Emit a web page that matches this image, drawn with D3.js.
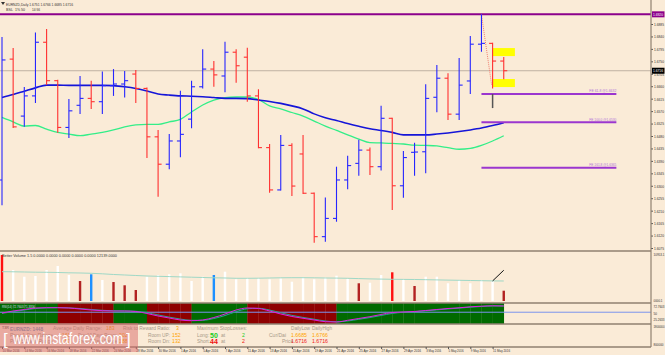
<!DOCTYPE html>
<html>
<head>
<meta charset="utf-8">
<script src="https://cdn.jsdelivr.net/npm/d3@7"></script>
<style>
html, body { margin: 0; padding: 0; background: #faebd7; }
svg { display: block; font-family: "Liberation Sans", Arial, sans-serif; }
</style>
</head>
<body>
<div id="chart"></div>
<script>
// one entry per daily bar
const dates = ["10 Mar 2016","11 Mar 2016","14 Mar 2016","15 Mar 2016","16 Mar 2016","17 Mar 2016","18 Mar 2016",
  "21 Mar 2016","22 Mar 2016","23 Mar 2016","24 Mar 2016","25 Mar 2016","28 Mar 2016","29 Mar 2016","30 Mar 2016",
  "31 Mar 2016","1 Apr 2016","4 Apr 2016","5 Apr 2016","6 Apr 2016","7 Apr 2016","8 Apr 2016","11 Apr 2016",
  "12 Apr 2016","13 Apr 2016","14 Apr 2016","15 Apr 2016","18 Apr 2016","19 Apr 2016","20 Apr 2016","21 Apr 2016",
  "22 Apr 2016","25 Apr 2016","26 Apr 2016","27 Apr 2016","28 Apr 2016","29 Apr 2016","2 May 2016","3 May 2016",
  "4 May 2016","5 May 2016","6 May 2016","9 May 2016","10 May 2016","11 May 2016","12 May 2016"];
const opens  = [1.6321,1.6758,1.6552,1.6625,1.6819,1.6680,1.6511,1.6591,1.6616,1.6604,1.6662,1.6668,1.6704,1.6652,1.6477,1.6378,
  1.6462,1.6541,1.6658,1.6722,1.6697,1.6783,1.6765,1.6625,1.6438,1.6285,1.6446,1.6415,1.6273,1.6116,1.6182,1.6321,
  1.6381,1.6429,1.6369,1.6544,1.6300,1.6421,1.6423,1.6620,1.6689,1.6559,1.6679,1.6812,1.6815,1.6751];
const highs  = [1.6838,1.6798,1.6657,1.6854,1.6867,1.6683,1.6614,1.6697,1.6680,1.6713,1.6722,1.6715,1.6719,1.6655,1.6502,1.6487,
  1.6644,1.6680,1.6794,1.6751,1.6821,1.6794,1.6799,1.6649,1.6451,1.6484,1.6454,1.6484,1.6276,1.6258,1.6369,1.6409,
  1.6466,1.6438,1.6589,1.6546,1.6426,1.6456,1.6667,1.6737,1.6707,1.6762,1.6842,1.6920,1.6817,1.6766];
const lows   = [1.6230,1.6509,1.6513,1.6599,1.6664,1.6492,1.6473,1.6560,1.6578,1.6560,1.6625,1.6619,1.6599,1.6400,1.6260,1.6360,
  1.6403,1.6508,1.6652,1.6658,1.6638,1.6673,1.6604,1.6436,1.6275,1.6283,1.6263,1.6270,1.6094,1.6098,1.6170,1.6287,
  1.6336,1.6339,1.6355,1.6212,1.6257,1.6336,1.6345,1.6566,1.6538,1.6538,1.6632,1.6785,1.6652,1.6685];
const closes = [1.6755,1.6513,1.6625,1.6819,1.6680,1.6511,1.6571,1.6616,1.6604,1.6662,1.6668,1.6680,1.6652,1.6477,1.6378,1.6462,
  1.6486,1.6658,1.6722,1.6701,1.6783,1.6734,1.6625,1.6438,1.6285,1.6446,1.6299,1.6273,1.6116,1.6182,1.6321,1.6373,
  1.6429,1.6369,1.6544,1.6300,1.6402,1.6422,1.6616,1.6689,1.6559,1.6664,1.6812,1.6815,1.6751,1.6716];
const maBlue  = [1.6619,1.6630,1.6642,1.6654,1.6664,1.6664,1.6663,1.6663,1.6663,1.6663,1.6662,1.6658,1.6652,1.6643,1.6632,1.6628,
  1.6625,1.6624,1.6622,1.6619,1.6616,1.6616,1.6615,1.6610,1.6605,1.6598,1.6589,1.6578,1.6560,1.6546,1.6536,1.6525,
  1.6515,1.6506,1.6500,1.6493,1.6484,1.6484,1.6484,1.6487,1.6491,1.6496,1.6502,1.6509,1.6518,1.6528];
const maGreen = [1.6547,1.6531,1.6516,1.6518,1.6505,1.6493,1.6487,1.6481,1.6487,1.6493,1.6502,1.6513,1.6520,1.6522,1.6522,1.6531,
  1.6540,1.6567,1.6592,1.6610,1.6619,1.6621,1.6621,1.6612,1.6589,1.6578,1.6565,1.6552,1.6534,1.6516,1.6500,1.6484,
  1.6469,1.6456,1.6455,1.6453,1.6451,1.6447,1.6446,1.6444,1.6438,1.6432,1.6435,1.6446,1.6462,1.6481];
const priceTicks = [1.6885,1.6840,1.6795,1.6750,1.6705,1.6660,1.6615,1.6570,1.6525,1.6480,1.6435,1.6390,1.6345,1.6300,
  1.6255,1.6210,1.6165,1.6120,1.6075];
const dateTickIdx = [0,2,4,6,8,10,12,14,16,18,20,22,24,26,28,30,32,34,36,38,40,42,44];

const volumes = [10540,7105,5570,5730,7105,8020,5960,4580,6120,4810,4350,3600,2520,5570,5960,6120,6350,4580,5570,5960,
  6715,4970,5200,5200,4970,5200,4420,5430,4970,5340,5800,5040,4060,4190,5960,6580,4970,3440,5570,5570,4060,4810,
  4060,4810,4580,2360];
const volumeTypes = ["climax","low","low","low","low","low","low","churn","spike","low","churn","churn","churn","low","low","low",
  "low","low","low","spike","low","low","low","low","low","low","low","low","low","low","low","low","churn","low","low",
  "climax","low","churn","low","low","low","low","low","low","low","churn"];
const volumeAvg = [6716,6693,6647,6601,6578,6532,6463,6418,6349,6234,6074,5959,5845,5730,5661,5592,5524,5455,5386,5317,
  5272,5203,5203,5226,5272,5317,5340,5340,5317,5272,5249,5203,5134,5065,5019,4974,4951,4928,4882,4836,4790,4744,
  4699,4653,4607,4584];
const bandState = ["up","up","up","up","up","down","down","down","down","down","up","up","up","down","down","down","down",
  "up","up","up","up","up","down","down","down","down","down","down","down","down","up","up","up","up","up","up","up",
  "up","up","up","up","up","up","up","up","up"];
const oscMain = [47.2,54.5,60,65.4,66.5,66.5,65.4,61.8,58.1,55.6,54.5,54.5,52.7,45.3,36.2,28.9,21.6,19.1,21.6,30.7,43.5,
  58.1,65.4,63.6,54.5,43.5,34.4,27.8,21.6,15.4,14.3,20.5,27.1,33.7,41.7,49,50.8,52.7,56.3,60,63.6,66.2,69.8,72,73.5,72.7];
const oscSignal = [46,52,58,63.5,66,66.8,66,63.5,60,57,55.2,54.6,53.5,48.5,40,32,25,20.5,20.5,27,38,52,62.5,64.5,58,48,
  38.5,31,24.5,18,15,18,24,30.5,38,45.5,50,52,55,58.5,62,65,68.3,71,72.8,73];

const resistance = 1.6920;
const lastPrice = 1.6716;
const fibLevels = [
  { label: "FE 61.8 @1.6632", value: 1.6632 },
  { label: "FE 100.0 @1.6530", value: 1.6530 },
  { label: "FE 161.8 @1.6365", value: 1.6365 }
];
const targetZones = [
  { hi: 1.6798, lo: 1.6769 },
  { hi: 1.6686, lo: 1.6657 }
];

const width = 665, height = 355;
const axisX = 651;

const svg = d3.select("#chart").append("svg")
  .attr("width", width).attr("height", height)
  .attr("viewBox", `0 0 ${width} ${height}`);

svg.append("rect").attr("width", width).attr("height", height).attr("fill", "#faebd7");

const x = d3.scaleLinear().domain([0, 45]).range([2, 503.75]);
const y = d3.scaleLinear().domain([1.6075, 1.6885]).range([248, 24]);
const yVol = d3.scaleLinear().domain([0, 11000]).range([301, 253]);
const yOsc = d3.scaleLinear().domain([7, 83.7]).range([324, 303]);

// squeeze a text into a given width (the MT4 font is narrow)
function fit(sel, w) {
  sel.attr("textLength", w).attr("lengthAdjust", "spacingAndGlyphs");
  return sel;
}

// header
svg.append("path").attr("d", "M1,2 L5,2 L3,5 Z").attr("fill", "#333");
fit(svg.append("text").attr("x", 6).attr("y", 5.5).attr("font-size", 4.4).attr("fill", "#333")
  .text("EURNZD,Daily  1.6751 1.6766 1.6685 1.6716"), 67);
fit(svg.append("text").attr("x", 6).attr("y", 11).attr("font-size", 4.2).attr("fill", "#333").text("BSL"), 7);
fit(svg.append("text").attr("x", 15).attr("y", 11).attr("font-size", 4.2).attr("fill", "#333").text("1% 50"), 10);
fit(svg.append("text").attr("x", 32).attr("y", 11).attr("font-size", 4.2).attr("fill", "#333").text("14:56"), 8);

// current price line
svg.append("line").attr("x1", 0).attr("x2", axisX).attr("y1", y(lastPrice)).attr("y2", y(lastPrice))
  .attr("stroke", "#bfb2a2").attr("stroke-width", 1);

// resistance line
svg.append("line").attr("x1", 0).attr("x2", axisX).attr("y1", y(resistance)).attr("y2", y(resistance))
  .attr("stroke", "#8b008b").attr("stroke-width", 2);

// moving averages
const line = d3.line().x((d, i) => x(i)).y(d => y(d)).curve(d3.curveMonotoneX);
svg.append("path").datum(maGreen).attr("d", line).attr("fill", "none")
  .attr("stroke", "#33ee88").attr("stroke-width", 1.3);
svg.append("path").datum(maBlue).attr("d", line).attr("fill", "none")
  .attr("stroke", "#1515d8").attr("stroke-width", 1.6);

// fib extension lines
const fib = svg.append("g");
fib.selectAll("line").data(fibLevels).join("line")
  .attr("x1", x(43)).attr("x2", x(55.1))
  .attr("y1", d => y(d.value)).attr("y2", d => y(d.value))
  .attr("stroke", "#9b36cf").attr("stroke-width", 2);
fit(fib.selectAll("text").data(fibLevels).join("text")
  .attr("x", x(55.1) - 27).attr("y", d => y(d.value) - 1.5)
  .attr("font-size", 4).attr("fill", "#b070d8")
  .text(d => d.label), 27);

// target zones
svg.append("g").selectAll("rect").data(targetZones).join("rect")
  .attr("x", x(44)).attr("width", x(46) - x(44))
  .attr("y", d => y(d.hi)).attr("height", d => y(d.lo) - y(d.hi))
  .attr("fill", "#ffff00");

// dotted swing line
svg.append("line").attr("x1", x(43)).attr("y1", y(highs[43])).attr("x2", x(44) - 1).attr("y2", y(1.6665))
  .attr("stroke", "#f08070").attr("stroke-width", 1).attr("stroke-dasharray", "1,1");
svg.append("line").attr("x1", x(44)).attr("x2", x(44)).attr("y1", y(1.6632)).attr("y2", y(1.6581))
  .attr("stroke", "#555").attr("stroke-width", 1.5);

// OHLC bars
const bars = svg.append("g").selectAll("g").data(dates).join("g")
  .attr("stroke", (d, i) => closes[i] >= opens[i] ? "#2626ff" : "#ff3030")
  .attr("stroke-width", 1.1);
bars.append("line").attr("x1", (d, i) => x(i)).attr("x2", (d, i) => x(i))
  .attr("y1", (d, i) => y(highs[i])).attr("y2", (d, i) => y(lows[i]));
bars.append("line").attr("x1", (d, i) => x(i) - 3.5).attr("x2", (d, i) => x(i))
  .attr("y1", (d, i) => y(opens[i])).attr("y2", (d, i) => y(opens[i]));
bars.append("line").attr("x1", (d, i) => x(i)).attr("x2", (d, i) => x(i) + 3.5)
  .attr("y1", (d, i) => y(closes[i])).attr("y2", (d, i) => y(closes[i]));

// price axis
const axisG = svg.append("g").attr("transform", `translate(${axisX},0)`)
  .call(d3.axisRight(y).tickValues(priceTicks).tickSize(2).tickFormat(d3.format(".4f")))
  .call(g => g.select(".domain").remove());
axisG.selectAll("line").attr("stroke", "#555");
fit(axisG.selectAll("text").attr("font-size", 4.2).attr("fill", "#333").attr("x", 3)
  .attr("font-family", "Liberation Sans, Arial"), 10);

function tagLabel(yPos, txt, bg) {
  const g = svg.append("g");
  g.append("rect").attr("x", axisX + 1).attr("y", yPos - 3).attr("width", 12.5).attr("height", 6).attr("fill", bg);
  fit(g.append("text").attr("x", axisX + 2).attr("y", yPos + 1.6).attr("font-size", 4.4).attr("fill", "#fff").text(txt), 10);
}
tagLabel(y(resistance), d3.format(".4f")(resistance), "#8b008b");
tagLabel(y(lastPrice), d3.format(".4f")(lastPrice), "#000");

// volume panel
const volColor = { low: "#ffffff", churn: "#b22222", spike: "#1e90ff", climax: "#ff1010" };
svg.append("g").selectAll("rect").data(volumes).join("rect")
  .attr("x", (d, i) => x(i) - 1.2).attr("width", 2.4)
  .attr("y", d => yVol(d)).attr("height", d => yVol(0) - yVol(d))
  .attr("fill", (d, i) => volColor[volumeTypes[i]]);
svg.append("path").datum(volumeAvg)
  .attr("d", d3.line().x((d, i) => x(i)).y(d => yVol(d)))
  .attr("fill", "none").attr("stroke", "#9fd8c6").attr("stroke-width", 1);
svg.append("line").attr("x1", x(44)).attr("y1", yVol(4600)).attr("x2", x(45)).attr("y2", yVol(7050))
  .attr("stroke", "#111").attr("stroke-width", 1);
fit(svg.append("text").attr("x", 2).attr("y", 256.5).attr("font-size", 4).attr("fill", "#333")
  .text("Better Volume 1.5  0.0000 0.0000 0.0000 0.0000 0.0000 12139.0000"), 115);

// band panel
const bandG = svg.append("g");
bandG.selectAll("rect").data(bandState.slice(0, 45)).join("rect")
  .attr("x", (d, i) => i === 0 ? 0 : x(i)).attr("width", (d, i) => x(i + 1) - (i === 0 ? 0 : x(i)) + 0.3)
  .attr("y", 303).attr("height", 21)
  .attr("fill", d => d === "up" ? "#006a00" : "#8e0000");
svg.append("line").attr("x1", 0).attr("x2", axisX).attr("y1", yOsc(50)).attr("y2", yOsc(50))
  .attr("stroke", "#7a93ee").attr("stroke-width", 1);
const oscLine = d3.line().x((d, i) => x(i)).y(d => yOsc(d)).curve(d3.curveMonotoneX);
svg.append("path").datum(oscSignal).attr("d", oscLine).attr("fill", "none")
  .attr("stroke", "#2aa090").attr("stroke-width", 1);
svg.append("path").datum(oscMain).attr("d", oscLine).attr("fill", "none")
  .attr("stroke", "#e020e0").attr("stroke-width", 1);
fit(svg.append("text").attr("x", 2).attr("y", 307.5).attr("font-size", 3.8).attr("fill", "#dde")
  .text("RSI(14) 72.7603 71.3356"), 33);

// panel separators
[251, 303, 324, 347].forEach(yy => {
  svg.append("line").attr("x1", 0).attr("x2", axisX).attr("y1", yy).attr("y2", yy)
    .attr("stroke", "#8f8070").attr("stroke-width", 1.4);
});
svg.append("line").attr("x1", axisX).attr("x2", axisX).attr("y1", 0).attr("y2", 347)
  .attr("stroke", "#8f8070").attr("stroke-width", 1.2);

const sideLabels = [
  { y: 255.5, t: "10953.1", w: 11 }, { y: 302, t: "0000.1", w: 9 },
  { y: 307.5, t: "72.7603", w: 11 }, { y: 314.5, t: "50", w: 3.5 }, { y: 321, t: "25.2633", w: 11 },
  { y: 327.5, t: "1800000", w: 11 }, { y: 346, t: "800000", w: 10 }
];
fit(svg.append("g").selectAll("text").data(sideLabels).join("text")
  .attr("x", axisX + 2.5).attr("y", d => d.y).attr("font-size", 4).attr("fill", "#333").text(d => d.t), 0)
  .attr("textLength", d => d.w);

// info strip
const labelCol = "#a89a88", valCol = "#ffa500";
const info = [
  { x: 2, y: 329, t: "T3R", c: "#333", s: 3.6 },
  { x: 10, y: 330.5, t: "EURNZD: 1448", c: "#6d8fb3", s: 6, w: "bold", l: 33 },
  { x: 53, y: 330, t: "Average Daily Range:", c: labelCol, s: 5, l: 49 },
  { x: 106, y: 330, t: "183", c: valCol, s: 5.2 },
  { x: 123, y: 330, t: "Risk to Reward Ratio:", c: labelCol, s: 5, l: 47 },
  { x: 176, y: 330, t: "3", c: valCol, s: 5.2 },
  { x: 197, y: 330, t: "Maximum StopLosses:", c: labelCol, s: 5, l: 50 },
  { x: 291, y: 330, t: "DailyLow", c: labelCol, s: 5, l: 19 },
  { x: 312, y: 330, t: "DailyHigh", c: labelCol, s: 5, l: 20 },
  { x: 10, y: 336.5, t: "Prev 1 Day Range", c: labelCol, s: 5, l: 43 },
  { x: 62, y: 336.5, t: "161", c: valCol, s: 5.2 },
  { x: 78, y: 336.5, t: "Prev10 Days Range", c: labelCol, s: 5, l: 39 },
  { x: 119, y: 336.5, t: "202", c: valCol, s: 5.2 },
  { x: 148, y: 336.5, t: "Room UP:", c: labelCol, s: 5, l: 22 },
  { x: 172, y: 336.5, t: "152", c: valCol, s: 5.2 },
  { x: 197, y: 336.5, t: "Long:", c: labelCol, s: 5, l: 12 },
  { x: 210, y: 338, t: "50", c: "#22cc22", s: 7, w: "bold" },
  { x: 221, y: 336.5, t: "at", c: labelCol, s: 5 },
  { x: 242, y: 336.5, t: "2", c: "#22cc22", s: 5.2 },
  { x: 269, y: 336.5, t: "Cur/Dai", c: labelCol, s: 5, l: 17 },
  { x: 291, y: 336.5, t: "1.6685", c: valCol, s: 5.2, l: 16 },
  { x: 312, y: 336.5, t: "1.6766", c: valCol, s: 5.2, l: 16 },
  { x: 10, y: 342.5, t: "Prev 5 Days Range", c: labelCol, s: 5, l: 43 },
  { x: 62, y: 342.5, t: "157", c: valCol, s: 5.2 },
  { x: 78, y: 342.5, t: "Prev20 Days Range", c: labelCol, s: 5, l: 39 },
  { x: 119, y: 342.5, t: "188", c: valCol, s: 5.2 },
  { x: 148, y: 342.5, t: "Room Dn:", c: labelCol, s: 5, l: 22 },
  { x: 172, y: 342.5, t: "132", c: valCol, s: 5.2 },
  { x: 197, y: 342.5, t: "Short:", c: labelCol, s: 5, l: 13 },
  { x: 210, y: 344, t: "44", c: "#ee1111", s: 7, w: "bold" },
  { x: 221, y: 342.5, t: "at", c: labelCol, s: 5 },
  { x: 242, y: 342.5, t: "2", c: "#ee1111", s: 5.2 },
  { x: 282, y: 342.5, t: "Price", c: labelCol, s: 5 },
  { x: 291, y: 342.5, t: "1.6716", c: "#ee2222", s: 5.2, l: 16 },
  { x: 312, y: 342.5, t: "1.6716", c: "#ee2222", s: 5.2, l: 16 }
];
const infoText = svg.append("g").selectAll("text").data(info).join("text")
  .attr("x", d => d.x).attr("y", d => d.y).attr("font-size", d => d.s)
  .attr("font-weight", d => d.w || "normal").attr("fill", d => d.c).text(d => d.t);
infoText.filter(d => d.l).attr("textLength", d => d.l).attr("lengthAdjust", "spacingAndGlyphs");

// date axis
const xAxisG = svg.append("g").attr("transform", "translate(0,347)")
  .call(d3.axisBottom(x).tickValues(dateTickIdx).tickSize(2).tickFormat(i => dates[i]))
  .call(g => g.select(".domain").remove());
xAxisG.selectAll("line").attr("stroke", "#555");
xAxisG.selectAll("text").attr("font-size", 4).attr("fill", "#333").attr("text-anchor", "start")
  .attr("y", 2.5).attr("dy", "0.71em").attr("font-family", "Liberation Sans, Arial")
  .attr("textLength", d => dates[d].length > 10 ? 17 : 15).attr("lengthAdjust", "spacingAndGlyphs");

// watermark
const wm = svg.append("g");
wm.append("rect").attr("x", 0).attr("y", 323).attr("width", 138).attr("height", 29)
  .attr("fill", "#d86a6a").attr("fill-opacity", 0.5);
wm.append("text").attr("x", 3).attr("y", 345).attr("font-size", 17).attr("fill", "#fff").text("[");
fit(wm.append("text").attr("x", 13).attr("y", 344).attr("font-size", 16).attr("fill", "#fff")
  .text("www.instaforex.com"), 110);
wm.append("text").attr("x", 126).attr("y", 345).attr("font-size", 17).attr("fill", "#fff").text("]");
</script>
</body>
</html>
